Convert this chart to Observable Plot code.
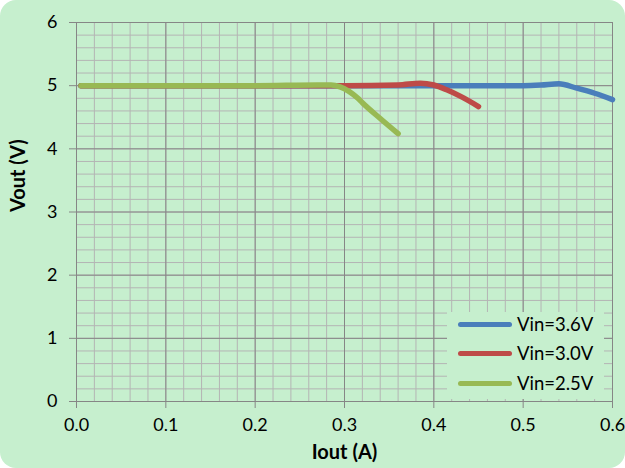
<!DOCTYPE html>
<html><head><meta charset="utf-8">
<script src="https://cdn.jsdelivr.net/npm/d3@7"></script>
<script src="https://cdn.jsdelivr.net/npm/@observablehq/plot@0.6"></script>
<style>
body{margin:0;background:#fff;}
#wrap{position:relative;width:625px;height:468px;background:#c6efce;border-radius:16px;overflow:hidden;font-family:Lato,sans-serif;}
#wrap svg{position:absolute;left:0;top:0;}
#legend{position:absolute;left:447px;top:312px;width:157px;height:87px;background:#c6efce;}
.row{position:absolute;left:0;height:20px;display:flex;align-items:center;}
.sw{width:54px;height:5px;border-radius:3px;margin-left:11px;margin-right:5px;}
.lab{font-size:18.5px;color:#000;white-space:nowrap;}
</style>
</head><body>
<div id="wrap"><div id="legend"></div></div>
<script>
const seriesNames = ["Vin=3.6V", "Vin=3.0V", "Vin=2.5V"];
const seriesColors = ["#4a7ebb", "#be4b48", "#98b954"];

const iout36 = [0.005, 0.1, 0.2, 0.3, 0.4, 0.5, 0.52, 0.54, 0.56, 0.58, 0.6];
const vout36 = [5.0, 5.0, 5.0, 5.0, 5.0, 5.0, 5.01, 5.03, 4.96, 4.88, 4.78];

const iout30 = [0.005, 0.1, 0.2, 0.3, 0.36, 0.385, 0.40, 0.415, 0.43, 0.45];
const vout30 = [5.0, 5.0, 5.0, 5.0, 5.01, 5.04, 5.01, 4.93, 4.83, 4.67];

const iout25 = [0.005, 0.1, 0.2, 0.27, 0.285, 0.295, 0.305, 0.315, 0.32, 0.34, 0.36];
const vout25 = [5.0, 5.0, 5.0, 5.01, 5.01, 4.98, 4.91, 4.80, 4.73, 4.48, 4.24];

const xTicks = [0, 0.1, 0.2, 0.3, 0.4, 0.5, 0.6];
const yTicks = [0, 1, 2, 3, 4, 5, 6];

const xMinor = d3.range(0, 31).map(i => i * 0.02);
const yMinor = d3.range(0, 31).map(i => i * 0.2);

const series = [
  {name: seriesNames[0], color: seriesColors[0], xs: iout36, ys: vout36},
  {name: seriesNames[1], color: seriesColors[1], xs: iout30, ys: vout30},
  {name: seriesNames[2], color: seriesColors[2], xs: iout25, ys: vout25}
].map(s => ({...s, data: s.xs.map((x, i) => ({x, y: s.ys[i]}))}));

const chart = Plot.plot({
  width: 625, height: 468,
  marginLeft: 76, marginRight: 13, marginTop: 22, marginBottom: 67,
  x: {domain: [0, 0.6]},
  y: {domain: [0, 6]},
  style: {background: "transparent", fontFamily: "Lato, sans-serif", fontSize: "18px", color: "#000"},
  marks: [
    Plot.ruleX(xMinor, {stroke: "#b4b4b4", strokeWidth: 1}),
    Plot.ruleY(yMinor, {stroke: "#b4b4b4", strokeWidth: 1}),
    Plot.ruleX(xTicks, {stroke: "#868686", strokeWidth: 1}),
    Plot.ruleY(yTicks, {stroke: "#868686", strokeWidth: 1}),
    Plot.axisX({ticks: xTicks, tickSize: 7, tickPadding: 10, tickFormat: d3.format(".1f"), stroke: "#868686", fill: "#000", fontSize: 18, label: null}),
    Plot.axisY({ticks: yTicks, tickSize: 7, tickPadding: 12, tickFormat: d3.format("d"), stroke: "#868686", fill: "#000", fontSize: 18, label: null}),
    ...series.map(s => Plot.line(s.data, {x: "x", y: "y", stroke: s.color, strokeWidth: 5.5, strokeLinecap: "round", strokeLinejoin: "round", curve: "monotone-x"})),
    Plot.text(["Iout (A)"], {frameAnchor: "bottom", dy: 57, fontWeight: "bold", fontSize: 20, fill: "#000"}),
    Plot.text(["Vout (V)"], {frameAnchor: "left", dx: -58, rotate: -90, fontWeight: "bold", fontSize: 20, fill: "#000"})
  ]
});
const wrap = document.getElementById("wrap");
wrap.insertBefore(chart, wrap.firstChild);

const legend = document.getElementById("legend");
const rowTops = [2, 31, 61];
series.forEach((s, i) => {
  const row = document.createElement("div");
  row.className = "row";
  row.style.top = rowTops[i] + "px";
  const sw = document.createElement("div");
  sw.className = "sw";
  sw.style.background = s.color;
  const lab = document.createElement("span");
  lab.className = "lab";
  lab.textContent = s.name;
  row.appendChild(sw);
  row.appendChild(lab);
  legend.appendChild(row);
});
</script>
</body></html>
